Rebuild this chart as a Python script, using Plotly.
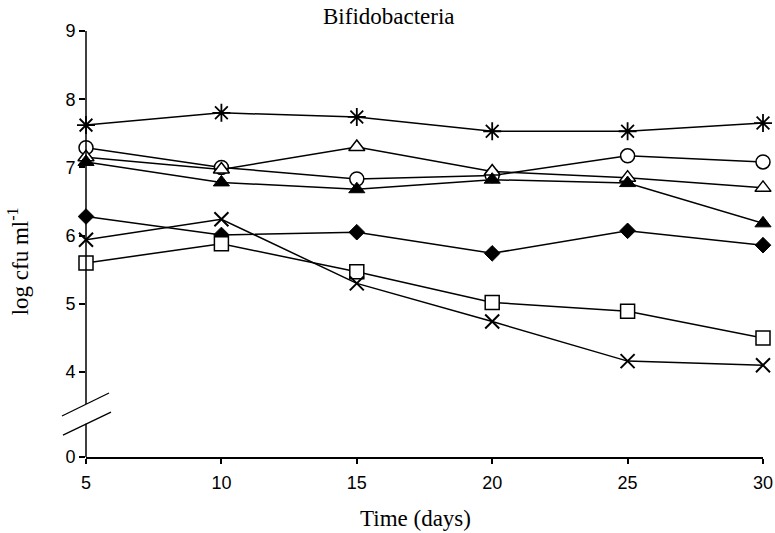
import plotly.graph_objects as go

# ---- data ----
days = [5, 10, 15, 20, 25, 30]
asterisk = [7.62, 7.80, 7.74, 7.53, 7.53, 7.65]
open_circle = [7.29, 7.00, 6.83, 6.88, 7.17, 7.08]
open_triangle = [7.15, 6.97, 7.30, 6.94, 6.85, 6.70]
filled_triangle = [7.08, 6.78, 6.68, 6.82, 6.77, 6.18]
filled_diamond = [6.28, 6.01, 6.05, 5.74, 6.07, 5.86]
cross = [5.94, 6.24, 5.30, 4.74, 4.16, 4.10]
open_square = [5.60, 5.88, 5.47, 5.02, 4.89, 4.50]

x_ticks = [5, 10, 15, 20, 25, 30]
y_ticks = [4, 5, 6, 7, 8, 9]
y_zero_pos = 2.754          # where the broken axis puts its "0"
y_tick_vals = [y_zero_pos] + y_ticks
y_tick_text = ["0"] + [str(v) for v in y_ticks]

series = [
    ("open circle", open_circle, dict(symbol="circle", size=14, color="white", line=dict(color="black", width=1.5))),
    ("open triangle", open_triangle, dict(symbol="triangle-up", size=14, color="white", line=dict(color="black", width=1.5))),
    ("filled triangle", filled_triangle, dict(symbol="triangle-up", size=14, color="black", line=dict(color="black", width=1))),
    ("filled diamond", filled_diamond, dict(symbol="diamond", size=12, color="black", line=dict(color="black", width=1))),
    ("open square", open_square, dict(symbol="square", size=14, color="white", line=dict(color="black", width=1.5))),
    ("cross", cross, dict(symbol="x-thin", size=14, color="black", line=dict(color="black", width=2))),
    ("asterisk", asterisk, dict(symbol="asterisk", size=15, color="black", line=dict(color="black", width=1.8))),
]

fig = go.Figure()
for name, vals, mk in series:
    fig.add_trace(go.Scatter(
        x=days, y=vals, mode="lines+markers", name=name,
        line=dict(color="black", width=1.5),
        marker=mk, cliponaxis=False, showlegend=False,
    ))

SERIF = "Liberation Serif, Times New Roman, serif"
SANS = "Liberation Sans, Arial, sans-serif"

fig.update_layout(
    width=775, height=533,
    margin=dict(l=86, r=12, t=31, b=76, autoexpand=False),
    paper_bgcolor="white", plot_bgcolor="white",
    showlegend=False,
    xaxis=dict(
        range=[5, 30], tickvals=x_ticks, ticktext=[str(v) for v in x_ticks],
        showgrid=False, zeroline=False, showline=True, linecolor="black", linewidth=1.5,
        ticks="outside", ticklen=5, tickwidth=1.5, tickcolor="black", automargin=False,
        ticklabelstandoff=4,
        tickfont=dict(family=SANS, size=18, color="black"),
    ),
    yaxis=dict(
        range=[y_zero_pos, 9], tickvals=y_tick_vals, ticktext=y_tick_text,
        showgrid=False, zeroline=False, showline=False, automargin=False,
        ticks="outside", ticklen=6, tickwidth=1.5, tickcolor="black",
        tickfont=dict(family=SANS, size=18, color="black"),
    ),
)

# broken y axis line (two segments) and the break marks
brk_low, brk_high = 3.242, 3.531
shapes = [
    dict(type="line", xref="paper", yref="y", x0=0, x1=0, y0=y_zero_pos, y1=brk_low,
         line=dict(color="black", width=1.5)),
    dict(type="line", xref="paper", yref="y", x0=0, x1=0, y0=brk_high, y1=9,
         line=dict(color="black", width=1.5)),
    dict(type="line", xref="paper", yref="y", x0=-0.0355, x1=0.034, y0=3.355, y1=3.692,
         line=dict(color="black", width=1.3)),
    dict(type="line", xref="paper", yref="y", x0=-0.034, x1=0.0369, y0=3.076, y1=3.413,
         line=dict(color="black", width=1.3)),
]
fig.update_layout(shapes=shapes)

fig.add_annotation(text="Bifidobacteria", xref="paper", yref="paper", x=0.4476, y=1.035,
                   xanchor="center", yanchor="middle", showarrow=False,
                   font=dict(family=SERIF, size=23, color="black"))
fig.add_annotation(text="Time (days)", xref="paper", yref="paper", x=0.486, y=-0.1455,
                   xanchor="center", yanchor="middle", showarrow=False,
                   font=dict(family=SERIF, size=23, color="black"))
fig.add_annotation(text="log cfu ml<sup>-1</sup>", xref="paper", yref="paper", x=-0.1, y=0.46,
                   xanchor="center", yanchor="middle", showarrow=False, textangle=-90,
                   font=dict(family=SERIF, size=23, color="black"))

fig.write_html("out.html", config={"displayModeBar": False},
               post_script="document.body.style.margin='0';")
